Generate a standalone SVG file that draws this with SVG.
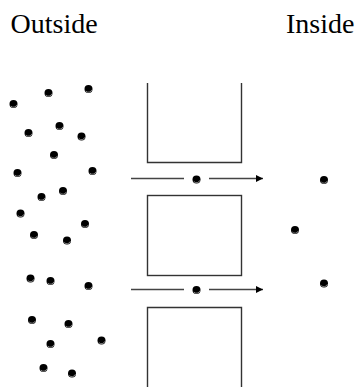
<svg xmlns="http://www.w3.org/2000/svg" width="360" height="387" viewBox="0 0 360 387">
<defs>
<style>
.lbl{font-family:"Liberation Serif","Times New Roman",serif;font-size:28px;fill:#000}
.wall{fill:none;stroke:#333;stroke-width:1.4}
.conn{stroke:#444;stroke-width:1.4;fill:none}
</style>
<marker id="ah" viewBox="0 0 10 10" refX="10" refY="5" markerWidth="7" markerHeight="7" markerUnits="userSpaceOnUse" orient="auto">
<path d="M0,0 L10,5 L0,10 z" fill="#000"/>
</marker>
<g id="dot"><circle r="4" fill="#000"/><path d="M-2.7,2 A3.6,3.6 0 0 0 3.4,0.8" stroke="#bbb" stroke-width="0.7" fill="none"/></g>
</defs>
<rect width="360" height="387" fill="#fff"/>
<g id="labels">
<text class="lbl" x="10.5" y="32.5">Outside</text>
<text class="lbl" x="286" y="32.5">Inside</text>
</g>
<g id="membrane">
<path id="wall1" class="wall" d="M147.5,83 V162.5 H241.5 V83"/>
<rect id="wall2" class="wall" x="147.5" y="195.5" width="94" height="80"/>
<path id="wall3" class="wall" d="M147.5,387 V307.5 H241.5 V387"/>
</g>
<g id="connectors">
<line class="conn" x1="131" y1="178.5" x2="184" y2="178.5"/>
<line class="conn" x1="209" y1="178.5" x2="263" y2="178.5" marker-end="url(#ah)"/>
<line class="conn" x1="131" y1="289.5" x2="184" y2="289.5"/>
<line class="conn" x1="209" y1="289.5" x2="263" y2="289.5" marker-end="url(#ah)"/>
</g>
<g id="particles">
<use href="#dot" x="196.5" y="179.5"/>
<use href="#dot" x="196.5" y="290"/>
<use href="#dot" x="324" y="180"/>
<use href="#dot" x="295" y="230"/>
<use href="#dot" x="324" y="283.5"/>
<use href="#dot" x="13.5" y="104"/>
<use href="#dot" x="48.5" y="93"/>
<use href="#dot" x="88.5" y="89"/>
<use href="#dot" x="28.5" y="133"/>
<use href="#dot" x="59.5" y="126"/>
<use href="#dot" x="81.5" y="136.5"/>
<use href="#dot" x="54" y="155"/>
<use href="#dot" x="17.5" y="173"/>
<use href="#dot" x="92.5" y="171"/>
<use href="#dot" x="41.5" y="197"/>
<use href="#dot" x="63" y="191"/>
<use href="#dot" x="20.5" y="213.5"/>
<use href="#dot" x="85" y="224"/>
<use href="#dot" x="34" y="235"/>
<use href="#dot" x="67" y="240.5"/>
<use href="#dot" x="30.5" y="278.5"/>
<use href="#dot" x="50.5" y="281"/>
<use href="#dot" x="88.5" y="286"/>
<use href="#dot" x="32" y="320"/>
<use href="#dot" x="68.5" y="324"/>
<use href="#dot" x="50.5" y="344"/>
<use href="#dot" x="101.5" y="340.5"/>
<use href="#dot" x="43.5" y="368"/>
<use href="#dot" x="72" y="373.5"/>
</g>
</svg>
